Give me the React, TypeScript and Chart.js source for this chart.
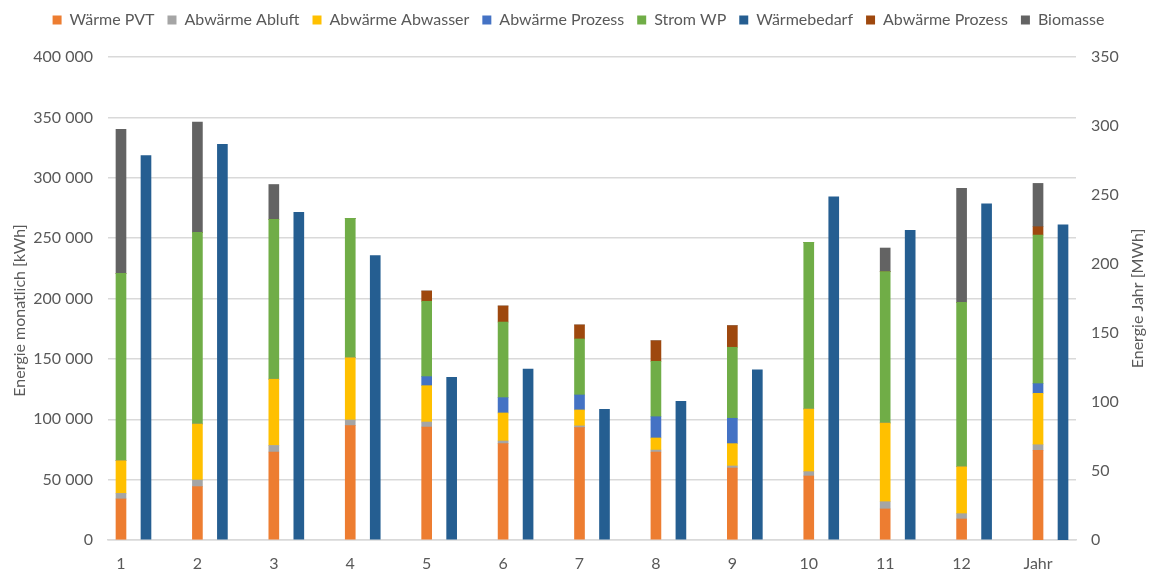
import { useEffect, useRef } from "react";
import { Chart, registerables } from "chart.js";

Chart.register(...registerables);

// Category labels (12 months + year)
const categories = ["1", "2", "3", "4", "5", "6", "7", "8", "9", "10", "11", "12", "Jahr"];

// Monthly values [kWh]
const waermePVT = [34000, 44200, 72900, 94700, 93600, 79800, 93000, 72900, 59600, 53000, 25700, 17400];
const abwaermeAbluft = [4600, 5500, 5400, 4700, 4100, 2200, 1500, 1600, 1700, 3600, 6000, 4400];
const abwaermeAbwasser = [27100, 46400, 54900, 51600, 30100, 23200, 13200, 10000, 18500, 51900, 65200, 38900];
const abwaermeProzess = [0, 0, 0, 0, 7500, 12700, 12400, 17600, 21000, 0, 0, 0];
const stromWP = [155100, 158700, 132400, 115400, 62400, 62600, 46400, 45900, 58800, 138000, 125300, 136100];
const abwaermeProzess2 = [0, 0, 0, 0, 8500, 13300, 11600, 17000, 17900, 0, 0, 0];
const biomasse = [119300, 91400, 28800, 0, 0, 0, 0, 0, 0, 0, 19600, 94400];
const waermebedarf = [318300, 327700, 271400, 235500, 134700, 141600, 108200, 114900, 141000, 284300, 256500, 278300];

// Year values [MWh]
const jahrWaermePVT = 65;
const jahrAbwaermeAbluft = 4;
const jahrAbwaermeAbwasser = 37.3;
const jahrAbwaermeProzess = 7;
const jahrStromWP = 107.7;
const jahrAbwaermeProzess2 = 6;
const jahrBiomasse = 31.4;
const jahrWaermebedarf = 228.3;

// Axis ticks and titles
const leftTicks = [0, 50000, 100000, 150000, 200000, 250000, 300000, 350000, 400000];
const rightTicks = [0, 50, 100, 150, 200, 250, 300, 350];
const leftTitle = "Energie monatlich [kWh]";
const rightTitle = "Energie Jahr [MWh]";

const FONT = "Lato";
const FSIZE = 16;
const TEXT = "#595959";
const GRID = "#D9D9D9";

const fmt = (v: number) => String(v).replace(/\B(?=(\d{3})+(?!\d))/g, " ");

export default function App() {
  const ref = useRef<HTMLCanvasElement | null>(null);

  useEffect(() => {
    if (!ref.current) return;
    const DEMAND_OFFSET = 0.327;
    const monthly = (arr: number[], off = 0) => arr.map((v, i) => ({ x: i + 1 + off, y: v }));
    const yearly = (v: number, off = 0) => [{ x: categories.length + off, y: v }];

    const supplySeries = [
      { label: "Wärme PVT", color: "#ED7D31", m: waermePVT, j: jahrWaermePVT },
      { label: "Abwärme Abluft", color: "#A5A5A5", m: abwaermeAbluft, j: jahrAbwaermeAbluft },
      { label: "Abwärme Abwasser", color: "#FFC000", m: abwaermeAbwasser, j: jahrAbwaermeAbwasser },
      { label: "Abwärme Prozess", color: "#4472C4", m: abwaermeProzess, j: jahrAbwaermeProzess },
      { label: "Strom WP", color: "#70AD47", m: stromWP, j: jahrStromWP },
    ];
    const topSeries = [
      { label: "Abwärme Prozess", color: "#9E480E", m: abwaermeProzess2, j: jahrAbwaermeProzess2 },
      { label: "Biomasse", color: "#636363", m: biomasse, j: jahrBiomasse },
    ];
    const demand = { label: "Wärmebedarf", color: "#255E91", m: waermebedarf, j: jahrWaermebedarf };

    const base = { barThickness: 10, borderWidth: 0, grouped: false };
    const mk = (s: any, stack: string, off: number) => ({
      ...base,
      label: s.label,
      backgroundColor: s.color,
      data: monthly(s.m, off),
      stack,
      yAxisID: "y",
    });
    const mkJ = (s: any, stack: string, off: number) => ({
      ...base,
      label: s.label,
      backgroundColor: s.color,
      data: yearly(s.j, off),
      stack,
      yAxisID: "y1",
    });

    const datasets: any[] = [
      ...supplySeries.map((s) => mk(s, "supply", 0)),
      mk(demand, "demand", DEMAND_OFFSET),
      ...topSeries.map((s) => mk(s, "supply", 0)),
      ...supplySeries.map((s) => mkJ(s, "supplyJ", 0)),
      mkJ(demand, "demandJ", DEMAND_OFFSET),
      ...topSeries.map((s) => mkJ(s, "supplyJ", 0)),
    ];

    const legendShift = {
      id: "legendShift",
      afterLayout(chart: any) {
        const lg = chart.legend;
        if (lg) {
          lg.top -= 19;
          lg.bottom -= 19;
          lg.left += 3;
          lg.right += 3;
        }
      },
    };

    const axisTitles = {
      id: "axisTitles",
      afterDraw(chart: any) {
        const { ctx, chartArea } = chart;
        const midY = (chartArea.top + chartArea.bottom) / 2;
        ctx.save();
        ctx.font = `${FSIZE}px ${FONT}`;
        ctx.fillStyle = TEXT;
        ctx.textAlign = "center";
        ctx.textBaseline = "middle";
        ctx.translate(20, midY + 12);
        ctx.rotate(-Math.PI / 2);
        ctx.fillText(leftTitle, 0, 0);
        ctx.restore();
        ctx.save();
        ctx.font = `${FSIZE}px ${FONT}`;
        ctx.fillStyle = TEXT;
        ctx.textAlign = "center";
        ctx.textBaseline = "middle";
        ctx.translate(chart.width - 13, midY);
        ctx.rotate(-Math.PI / 2);
        ctx.fillText(rightTitle, 0, 0);
        ctx.restore();
      },
    };

    const chart = new Chart(ref.current, {
      type: "bar",
      data: { datasets },
      plugins: [legendShift, axisTitles],
      options: {
        animation: false,
        responsive: true,
        maintainAspectRatio: false,
        layout: { padding: { top: 18, left: 0, right: 0, bottom: 0 } },
        plugins: {
          tooltip: { enabled: false },
          legend: {
            position: "top",
            labels: {
              filter: (item: any) => item.datasetIndex < 8,
              boxWidth: 9,
              boxHeight: 9,
              padding: 13,
              color: TEXT,
              font: { family: FONT, size: FSIZE },
            },
          },
        },
        scales: {
          x: {
            type: "linear",
            min: 0.83,
            max: 13.497,
            offset: false,
            grid: { display: false },
            border: { display: true, color: GRID, width: 1.5 },
            afterBuildTicks: (scale: any) => {
              scale.ticks = categories.map((_, i) => ({ value: i + 1 }));
            },
            afterFit: (scale: any) => {
              scale.height = 32;
            },
            ticks: {
              autoSkip: false,
              maxRotation: 0,
              padding: 6,
              color: TEXT,
              font: { family: FONT, size: FSIZE },
              callback: (v: any) => categories[Math.round(Number(v)) - 1] ?? "",
            },
          },
          y: {
            type: "linear",
            position: "left",
            stacked: true,
            min: 0,
            max: 400000,
            grid: { color: GRID, lineWidth: 1.5, drawTicks: false },
            border: { display: false },
            afterBuildTicks: (scale: any) => {
              scale.ticks = leftTicks.map((v) => ({ value: v }));
            },
            afterFit: (scale: any) => {
              scale.width = 108;
            },
            ticks: {
              padding: 15,
              color: TEXT,
              font: { family: FONT, size: FSIZE },
              callback: (v: any) => fmt(Number(v)),
            },
          },
          y1: {
            type: "linear",
            position: "right",
            stacked: true,
            min: 0,
            max: 350,
            grid: { display: false, drawTicks: false },
            border: { display: false },
            afterBuildTicks: (scale: any) => {
              scale.ticks = rightTicks.map((v) => ({ value: v }));
            },
            afterFit: (scale: any) => {
              scale.width = 75;
            },
            ticks: {
              padding: 15,
              color: TEXT,
              font: { family: FONT, size: FSIZE },
            },
          },
        },
      } as any,
    });
    return () => chart.destroy();
  }, []);

  return (
    <div style={{ position: "fixed", left: 0, top: 0, width: 1151, height: 572, background: "#fff" }}>
      <canvas ref={ref} />
    </div>
  );
}
